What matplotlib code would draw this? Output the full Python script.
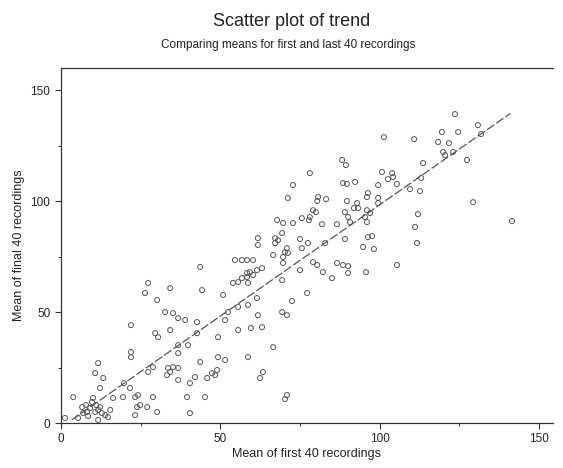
import matplotlib
matplotlib.use("Agg")
import matplotlib.pyplot as plt
from matplotlib.ticker import MultipleLocator

plt.rcParams['font.family'] = ['Liberation Sans', 'DejaVu Sans']

# Mean of first 40 recordings (x) and final 40 recordings (y)
first_mean = [
    1.3, 3.9, 5.4, 6.7, 7.0, 8.2, 8.6, 9.2, 9.8, 10.1, 10.8, 11.1, 11.7, 11.7, 12.3,
    11.7, 10.8, 13.3, 12.9, 13.9, 14.8, 12.3, 16.4, 19.5, 19.8, 21.7, 22.0, 22.0, 23.3,
    23.3, 23.9, 22.0, 7.9, 15.5,
    43.7, 27.4, 26.4, 30.2, 34.3, 44.3, 50.9, 32.7, 35.2, 36.8, 39.0, 42.7, 51.5, 34.3,
    29.6, 30.5, 42.7, 49.3, 36.8, 39.9, 36.8, 49.3, 51.5, 43.7, 28.9, 27.4, 33.6, 35.2,
    36.8, 33.3, 34.3, 36.8, 45.9, 47.4, 49.0, 48.4, 42.1, 40.5, 24.2, 28.9, 39.6, 45.2,
    24.9, 27.1, 30.2, 40.5,
    54.0, 55.6, 56.8, 58.4, 59.3, 58.7, 60.3, 61.5, 63.1, 69.4, 75.0, 82.2, 85.0, 90.1,
    95.7, 61.5, 58.7, 55.6, 52.4, 72.5, 77.2, 69.4, 70.9, 61.8, 55.6, 59.6, 63.1, 66.6,
    58.7, 63.4, 62.5, 70.9, 70.3, 54.6, 56.8, 58.4, 60.3, 61.8, 61.8, 67.2, 69.4, 67.2,
    68.1, 75.0, 77.5, 75.6, 70.9, 70.3, 69.7, 71.2, 66.6, 69.7, 79.1, 80.4, 86.6, 88.5,
    90.1, 89.1, 82.9, 94.8, 67.8, 69.7, 75.6, 78.1, 77.8, 72.8, 79.1, 80.0, 81.9, 86.6,
    90.1, 90.7, 95.4, 96.0, 71.2, 80.7, 80.4, 83.2, 89.7, 92.9, 96.0, 93.2, 89.1, 72.8,
    78.1, 88.5, 89.7, 92.3, 88.2, 89.4, 58.4,
    123.6, 130.8, 131.8, 119.5, 124.6, 101.3, 110.8, 118.3, 121.7, 119.9, 120.5, 123.0,
    127.4, 113.6, 100.7, 103.9, 104.2, 102.6, 99.5, 105.4, 113.0, 96.3, 99.5, 99.5,
    109.5, 112.6, 97.0, 129.3, 112.0, 111.1, 111.7, 141.5, 96.3, 97.6, 98.2, 105.4,
    91.9, 96.0,
]
final_mean = [
    2.3, 11.7, 2.3, 7.2, 4.5, 5.0, 3.2, 6.8, 9.5, 11.3, 5.0, 8.1, 5.9, 1.4, 15.8,
    27.0, 22.5, 20.3, 4.5, 3.6, 2.7, 7.2, 11.3, 11.7, 18.0, 15.8, 32.0, 29.7, 11.7,
    3.6, 7.2, 44.1, 8.1, 5.9,
    70.3, 63.1, 58.6, 55.4, 60.8, 59.9, 57.7, 50.0, 49.5, 47.3, 46.4, 45.5, 46.4, 41.9,
    40.5, 38.7, 40.5, 38.7, 35.1, 35.1, 31.5, 29.7, 28.4, 27.5, 25.2, 23.0, 24.8, 25.2,
    24.8, 21.6, 23.0, 19.4, 20.3, 22.5, 23.9, 21.6, 20.7, 18.0, 12.6, 11.7, 11.7, 11.7,
    8.1, 7.2, 5.0, 4.5,
    63.1, 63.5, 65.3, 67.6, 68.0, 63.1, 66.7, 68.9, 69.8, 64.4, 68.9, 68.0, 65.3, 67.6,
    68.0, 56.3, 53.2, 52.3, 50.0, 55.0, 58.6, 50.0, 48.6, 48.6, 41.9, 42.8, 43.2, 34.2,
    29.7, 23.0, 20.3, 12.6, 10.8, 73.4, 73.4, 73.4, 73.4, 83.3, 80.2, 83.3, 85.6, 81.1,
    82.4, 82.9, 81.1, 78.8, 78.8, 77.0, 74.8, 76.6, 75.7, 72.1, 72.5, 71.2, 72.1, 71.2,
    70.7, 82.9, 81.1, 79.3, 91.4, 90.1, 92.3, 92.8, 91.4, 90.1, 95.9, 95.0, 89.6, 89.6,
    92.8, 90.5, 92.8, 90.5, 101.4, 101.8, 100.0, 100.9, 100.0, 99.1, 101.8, 96.8, 95.0, 107.2,
    112.6, 108.1, 107.7, 108.6, 118.5, 116.2, 65.8,
    139.2, 134.2, 130.2, 131.1, 131.1, 128.8, 127.9, 126.6, 126.1, 122.1, 120.7, 122.1,
    118.5, 117.1, 113.1, 112.6, 110.8, 109.9, 107.2, 107.7, 110.4, 103.6, 101.4, 99.1,
    105.4, 104.5, 94.6, 99.5, 94.1, 88.3, 81.1, 91.0, 83.8, 84.2, 78.4, 71.2,
    96.8, 95.9,
]

# trend line end points
trend_x = [3.5, 141.0]
trend_y = [1.5, 139.5]

fig = plt.figure(figsize=(5.63, 4.68), dpi=100)
ax = fig.add_axes([0.108, 0.096, 0.874, 0.759])

ax.scatter(first_mean, final_mean, s=13, facecolors='none', edgecolors='#555555',
           linewidths=0.7, clip_on=False, zorder=3)
ax.plot(trend_x, trend_y, color='#555555', linewidth=0.9, dashes=(7, 2), zorder=2)

ax.set_xlim(0, 154.3)
ax.set_ylim(0, 160)
ax.xaxis.set_major_locator(MultipleLocator(50))
ax.xaxis.set_minor_locator(MultipleLocator(25))
ax.yaxis.set_major_locator(MultipleLocator(50))
ax.yaxis.set_minor_locator(MultipleLocator(25))
ax.tick_params(which='major', length=4, width=0.8, labelsize=8.5, color='#333333',
               labelcolor='#222222')
ax.tick_params(which='minor', length=2.5, width=0.7, color='#333333')

ax.spines['right'].set_visible(False)
for side in ['left', 'bottom', 'top']:
    ax.spines[side].set_linewidth(0.9)
    ax.spines[side].set_color('#333333')

ax.set_xlabel('Mean of first 40 recordings', fontsize=9, labelpad=2, color='#222222')
ax.set_ylabel('Mean of final 40 recordings', fontsize=9, labelpad=4, color='#222222')

fig.text(0.518, 0.955, 'Scatter plot of trend', ha='center', va='center',
         fontsize=13, color='#222222')
fig.text(0.512, 0.904, 'Comparing means for first and last 40 recordings',
         ha='center', va='center', fontsize=8.5, color='#222222')

fig.savefig('out.png', dpi=100)
